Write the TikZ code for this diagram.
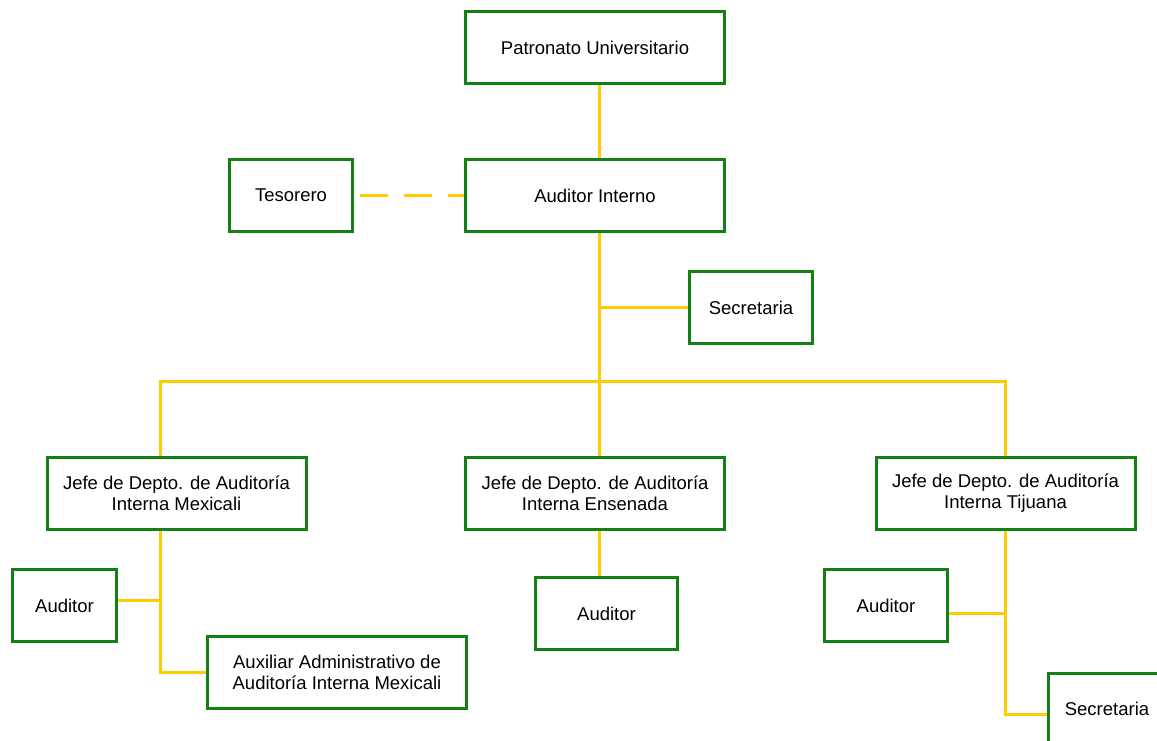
\documentclass[tikz,border=0pt]{standalone}
\usepackage{fontspec}
\setmainfont{Liberation Sans}
\usetikzlibrary{positioning}
\definecolor{boxgreen}{RGB}{20,128,20}
\definecolor{linkyellow}{RGB}{255,204,0}

\begin{document}
\begin{tikzpicture}[x=1pt,y=-1pt,node distance=2cm,align=center,
		font=\fontsize{18.5}{21}\selectfont,
		box/.style={draw=boxgreen,line width=3pt,minimum height=72pt,inner sep=2pt,fill=white},
		wbox/.style={box,minimum width=259pt},
		link/.style={draw=linkyellow,line width=3pt}]
			\useasboundingbox (0,0) rectangle (1157,740);
			\node[wbox] (pat) at (595,47.5) {Patronato Universitario};
			\node[wbox] [below=73pt of pat] (aud) {Auditor Interno};
			\node[box,minimum width=123pt] [left=110pt of aud] (tes) {Tesorero};
			\node[box,minimum width=123pt] (sec) at (751,307.5) {Secretaria};
			\node[wbox] (jmx) at (176.5,493) {Jefe de Depto. de Auditoría\\Interna Mexicali};
			\node[wbox] (jen) at (595,493) {Jefe de Depto. de Auditoría\\Interna Ensenada};
			\node[wbox] (jtj) at (1005.5,493) {Jefe de Depto. de Auditoría\\Interna Tijuana};
			\node[box,minimum width=104pt] (amx) at (64.5,605.5) {Auditor};
			\node[wbox] (aux) at (337,672.5) {Auxiliar Administrativo de\\Auditoría Interna Mexicali};
			\node[box,minimum width=142pt] (aen) at (606.5,613.5) {Auditor};
			\node[box,minimum width=123pt] (atj) at (886,605.5) {Auditor};
			\node[box,minimum width=118pt] (stj) at (1107,709) {Secretaria};
			\coordinate (bus) at (599,381);
			\coordinate (bl) at (160,381);
			\coordinate (br) at (jtj.north |- bus);
			% upper spine
			\draw[link] (pat.south -| bus) -- (aud.north -| bus);
			\draw[link] (aud.south -| bus) -- (jen.north -| bus);
			\draw[link] (sec.west) -- (sec.west -| bus);
			\draw[link,dash pattern=on 28pt off 16pt,shorten <=6pt] (tes.east) -- (aud.west);
			% regional offices
			\draw[link] (jmx.north -| bl) -- (bl) -- (br) -- (jtj.north);
			\draw[link] (jmx.south -| bl) |- (aux.west);
			\draw[link] ([yshift=5pt]amx.east) -- ([yshift=5pt]amx.east -| bl);
			\draw[link] (jen.south -| bus) -- (aen.north -| bus);
			\draw[link] (jtj.south) |- ([yshift=-5pt]stj.west);
			\draw[link] ([yshift=-8pt]atj.east) -- ([yshift=-8pt]atj.east -| jtj.south);
		\end{tikzpicture}
\end{document}
